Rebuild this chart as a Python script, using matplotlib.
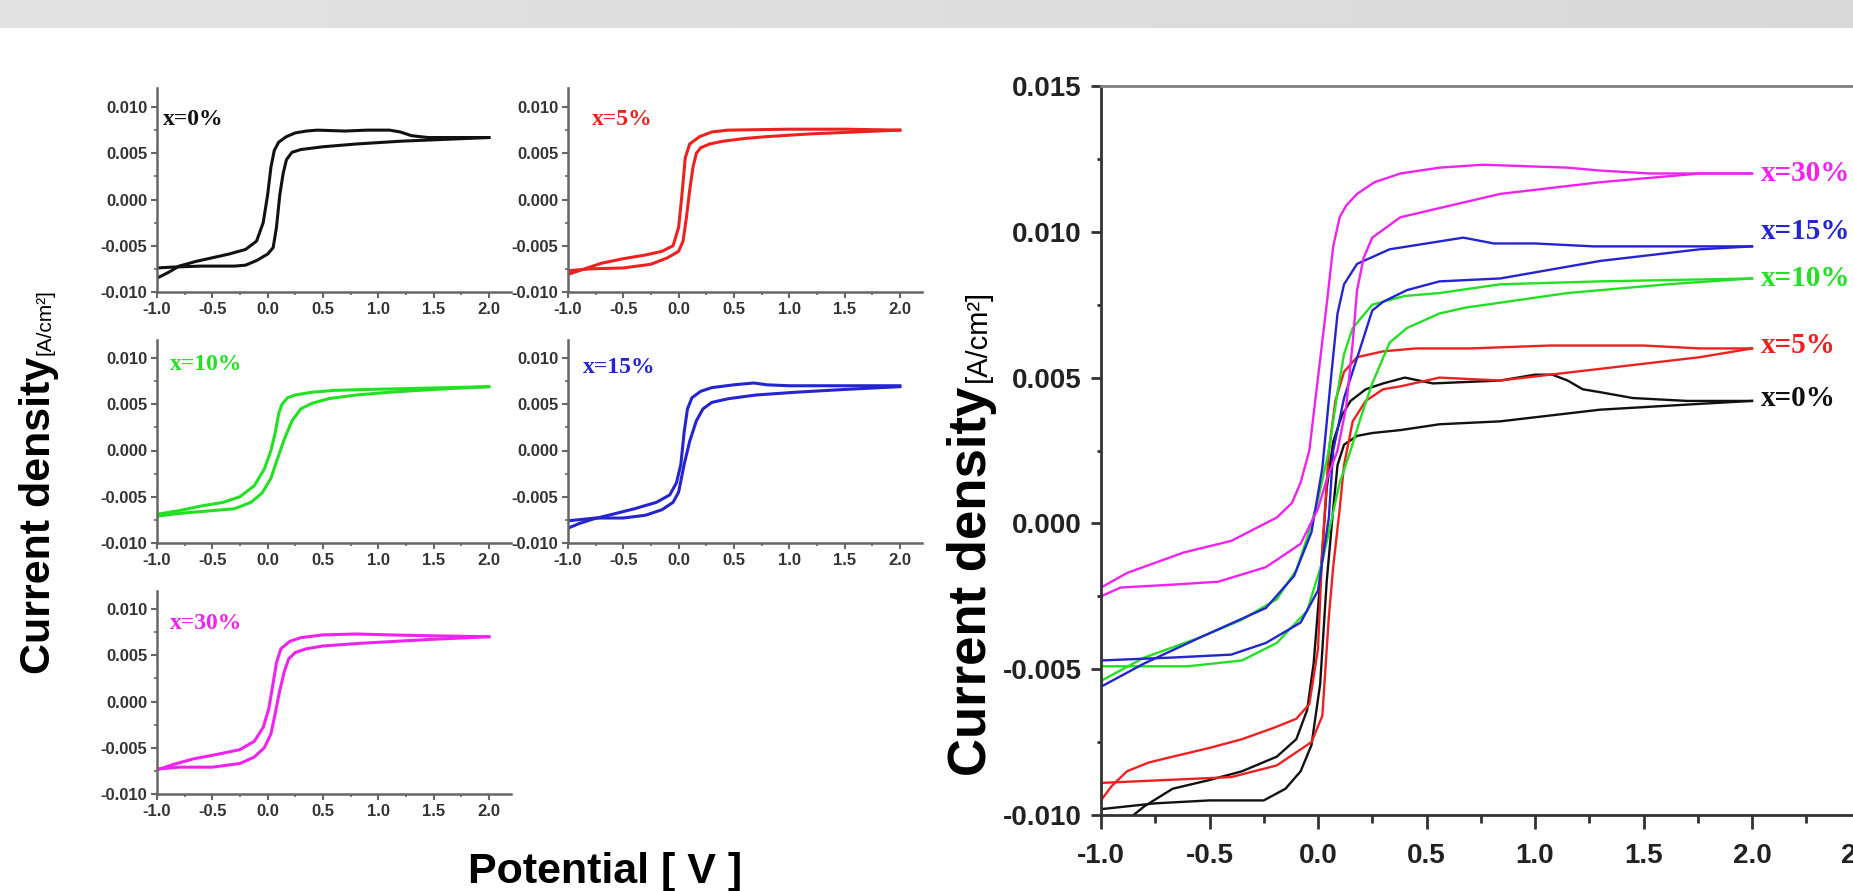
import matplotlib.pyplot as plt
from matplotlib.ticker import MultipleLocator, FormatStrFormatter
import numpy as np

plt.rcParams['font.family'] = ['Liberation Sans', 'DejaVu Sans']
plt.rcParams['font.weight'] = 'bold'

W, H = 1853, 891

labels = ["x=0%", "x=5%", "x=10%", "x=15%", "x=30%"]
colors = ["#111111", "#ee2020", "#22e022", "#2424d0", "#f022f0"]

# small panels: (potential V, current density A/cm2), two branches per loop
s0_up = [(-1.0, -0.0085), (-0.9, -0.0079), (-0.8, -0.0072), (-0.65, -0.0067), (-0.5, -0.0063),
         (-0.35, -0.0059), (-0.2, -0.0054), (-0.1, -0.0045), (-0.04, -0.0025), (0.0, 0.0005),
         (0.03, 0.0035), (0.06, 0.0053), (0.1, 0.0062), (0.17, 0.0068), (0.25, 0.0072),
         (0.35, 0.0074), (0.45, 0.0075), (0.7, 0.0074), (0.9, 0.0075), (1.1, 0.0075),
         (1.2, 0.0073), (1.3, 0.0069), (1.45, 0.0067), (1.7, 0.0067), (2.0, 0.0067)]
s0_dn = [(2.0, 0.0067), (1.6, 0.0065), (1.2, 0.0063), (0.8, 0.0060), (0.5, 0.0057),
         (0.3, 0.0054), (0.22, 0.0051), (0.17, 0.0043), (0.14, 0.0028), (0.11, 0.0005),
         (0.08, -0.0030), (0.05, -0.0052), (0.0, -0.0059), (-0.1, -0.0066), (-0.2, -0.0071),
         (-0.3, -0.0072), (-0.6, -0.0072), (-0.85, -0.0073), (-1.0, -0.0074)]

s5_up = [(-1.0, -0.0081), (-0.85, -0.0075), (-0.7, -0.0069), (-0.5, -0.0064), (-0.3, -0.0060),
         (-0.15, -0.0056), (-0.05, -0.0050), (0.0, -0.0030), (0.03, 0.0005), (0.06, 0.0045),
         (0.1, 0.0060), (0.19, 0.0068), (0.3, 0.0073), (0.45, 0.0075), (1.0, 0.0076),
         (1.5, 0.0076), (2.0, 0.0075)]
s5_dn = [(2.0, 0.0075), (1.6, 0.0073), (1.2, 0.0071), (0.8, 0.0068), (0.6, 0.0066),
         (0.4, 0.0063), (0.28, 0.0060), (0.2, 0.0056), (0.16, 0.0050), (0.13, 0.0035),
         (0.1, 0.0010), (0.07, -0.0020), (0.04, -0.0045), (0.0, -0.0056), (-0.1, -0.0063),
         (-0.25, -0.0070), (-0.5, -0.0074), (-0.8, -0.0075), (-1.0, -0.0077)]

s10_up = [(-1.0, -0.0069), (-0.8, -0.0065), (-0.6, -0.0060), (-0.4, -0.0056), (-0.25, -0.0050),
          (-0.12, -0.0038), (-0.03, -0.0020), (0.03, 0.0000), (0.07, 0.0020), (0.1, 0.0040),
          (0.13, 0.0050), (0.18, 0.0057), (0.25, 0.0060), (0.4, 0.0063), (0.6, 0.0065),
          (0.9, 0.0066), (1.3, 0.0067), (2.0, 0.0069)]
s10_dn = [(2.0, 0.0069), (1.5, 0.0066), (1.1, 0.0063), (0.8, 0.0060), (0.55, 0.0056),
          (0.4, 0.0051), (0.3, 0.0045), (0.22, 0.0032), (0.15, 0.0012), (0.08, -0.0012),
          (0.03, -0.0030), (-0.05, -0.0046), (-0.15, -0.0056), (-0.3, -0.0063), (-0.5, -0.0065),
          (-0.8, -0.0068), (-1.0, -0.0071)]

s15_up = [(-1.0, -0.0084), (-0.9, -0.0079), (-0.77, -0.0074), (-0.6, -0.0069), (-0.4, -0.0063),
          (-0.2, -0.0056), (-0.08, -0.0048), (-0.02, -0.0035), (0.02, -0.0015), (0.05, 0.0020),
          (0.08, 0.0045), (0.12, 0.0057), (0.2, 0.0064), (0.3, 0.0068), (0.5, 0.0071),
          (0.68, 0.0073), (0.8, 0.0071), (1.0, 0.0070), (1.5, 0.0070), (2.0, 0.0070)]
s15_dn = [(2.0, 0.0069), (1.5, 0.0066), (1.06, 0.0063), (0.7, 0.0060), (0.45, 0.0056),
          (0.3, 0.0052), (0.22, 0.0045), (0.16, 0.0032), (0.1, 0.0010), (0.05, -0.0015),
          (0.0, -0.0045), (-0.05, -0.0056), (-0.15, -0.0064), (-0.3, -0.0070), (-0.5, -0.0073),
          (-0.75, -0.0073), (-1.0, -0.0076)]

s30_up = [(-1.0, -0.0074), (-0.85, -0.0068), (-0.67, -0.0062), (-0.45, -0.0057), (-0.25, -0.0052),
          (-0.12, -0.0043), (-0.04, -0.0028), (0.01, -0.0008), (0.05, 0.0020), (0.08, 0.0042),
          (0.12, 0.0057), (0.2, 0.0065), (0.3, 0.0069), (0.5, 0.0072), (0.8, 0.0073),
          (1.1, 0.0072), (1.5, 0.0071), (2.0, 0.0070)]
s30_dn = [(2.0, 0.0070), (1.45, 0.0067), (0.85, 0.0063), (0.5, 0.0060), (0.35, 0.0057),
          (0.25, 0.0053), (0.19, 0.0046), (0.15, 0.0032), (0.11, 0.0012), (0.07, -0.0012),
          (0.03, -0.0035), (-0.03, -0.0050), (-0.12, -0.0060), (-0.25, -0.0067), (-0.5, -0.0071),
          (-0.8, -0.0071), (-1.0, -0.0073)]

# big panel
b0_up = [(-1.0, -0.0108), (-0.9, -0.0103), (-0.8, -0.0097), (-0.67, -0.0091), (-0.5, -0.0088),
         (-0.35, -0.0085), (-0.19, -0.0080), (-0.1, -0.0074), (-0.05, -0.0064), (-0.02, -0.0048),
         (0.01, -0.0020), (0.04, 0.0012), (0.07, 0.0028), (0.11, 0.0037), (0.15, 0.0042),
         (0.22, 0.0046), (0.3, 0.0048), (0.4, 0.0050), (0.53, 0.0048), (0.84, 0.0049),
         (1.0, 0.0051), (1.08, 0.0051), (1.15, 0.0049), (1.22, 0.0046), (1.3, 0.0045),
         (1.45, 0.0043), (1.7, 0.0042), (2.0, 0.0042)]
b0_dn = [(2.0, 0.0042), (1.76, 0.0041), (1.3, 0.0039), (0.84, 0.0035), (0.56, 0.0034),
         (0.38, 0.0032), (0.25, 0.0031), (0.18, 0.0030), (0.12, 0.0027), (0.09, 0.0020),
         (0.07, 0.0005), (0.04, -0.0020), (0.01, -0.0055), (-0.03, -0.0076), (-0.08, -0.0085),
         (-0.15, -0.0091), (-0.25, -0.0095), (-0.5, -0.0095), (-0.75, -0.0096), (-1.0, -0.0098)]

b5_up = [(-1.0, -0.0095), (-0.95, -0.0090), (-0.88, -0.0085), (-0.78, -0.0082), (-0.67, -0.0080),
         (-0.5, -0.0077), (-0.35, -0.0074), (-0.2, -0.0070), (-0.1, -0.0067), (-0.04, -0.0062),
         (0.0, -0.0043), (0.02, -0.0009), (0.05, 0.0025), (0.08, 0.0042), (0.12, 0.0052),
         (0.18, 0.0057), (0.3, 0.0059), (0.45, 0.0060), (0.7, 0.0060), (1.07, 0.0061),
         (1.5, 0.0061), (1.76, 0.0060), (2.0, 0.0060)]
b5_dn = [(2.0, 0.0060), (1.76, 0.0057), (1.3, 0.0053), (0.84, 0.0049), (0.56, 0.0050),
         (0.38, 0.0047), (0.3, 0.0046), (0.22, 0.0042), (0.16, 0.0035), (0.12, 0.0020),
         (0.1, 0.0005), (0.07, -0.0015), (0.05, -0.0032), (0.02, -0.0066), (-0.03, -0.0075),
         (-0.19, -0.0083), (-0.4, -0.0087), (-0.7, -0.0088), (-1.0, -0.0089)]

b10_up = [(-1.0, -0.0054), (-0.9, -0.0050), (-0.8, -0.0046), (-0.54, -0.0039), (-0.35, -0.0033),
          (-0.19, -0.0026), (-0.1, -0.0016), (-0.05, -0.0005), (0.0, 0.0008), (0.05, 0.0025),
          (0.09, 0.0045), (0.12, 0.0058), (0.16, 0.0067), (0.25, 0.0075), (0.4, 0.0078),
          (0.56, 0.0079), (0.84, 0.0082), (1.3, 0.0083), (2.0, 0.0084)]
b10_dn = [(2.0, 0.0084), (1.61, 0.0082), (1.15, 0.0079), (0.68, 0.0074), (0.56, 0.0072),
          (0.41, 0.0067), (0.33, 0.0062), (0.25, 0.0048), (0.2, 0.0037), (0.15, 0.0025),
          (0.1, 0.0014), (0.05, -0.0003), (0.02, -0.0013), (-0.05, -0.0030), (-0.19, -0.0041),
          (-0.35, -0.0047), (-0.6, -0.0049), (-1.0, -0.0049)]

b15_up = [(-1.0, -0.0056), (-0.8, -0.0048), (-0.54, -0.0039), (-0.24, -0.0029), (-0.11, -0.0018),
          (-0.03, -0.0003), (0.02, 0.0019), (0.06, 0.0050), (0.09, 0.0072), (0.12, 0.0082),
          (0.18, 0.0089), (0.33, 0.0094), (0.5, 0.0096), (0.67, 0.0098), (0.81, 0.0096),
          (1.0, 0.0096), (1.27, 0.0095), (2.0, 0.0095)]
b15_dn = [(2.0, 0.0095), (1.76, 0.0094), (1.3, 0.0090), (0.84, 0.0084), (0.56, 0.0083),
          (0.41, 0.0080), (0.3, 0.0076), (0.25, 0.0073), (0.19, 0.0059), (0.12, 0.0043),
          (0.07, 0.0025), (0.05, 0.0002), (0.0, -0.0023), (-0.08, -0.0034), (-0.24, -0.0041),
          (-0.4, -0.0045), (-0.67, -0.0046), (-1.0, -0.0047)]

b30_up = [(-1.0, -0.0022), (-0.88, -0.0017), (-0.62, -0.0010), (-0.4, -0.0006), (-0.19, 0.0002),
          (-0.12, 0.0007), (-0.08, 0.0014), (-0.04, 0.0025), (0.0, 0.0050), (0.04, 0.0075),
          (0.07, 0.0095), (0.1, 0.0105), (0.13, 0.0109), (0.18, 0.0113), (0.26, 0.0117),
          (0.38, 0.0120), (0.56, 0.0122), (0.76, 0.0123), (1.15, 0.0122), (1.3, 0.0121),
          (1.53, 0.0120), (2.0, 0.0120)]
b30_dn = [(2.0, 0.0120), (1.76, 0.0120), (1.3, 0.0117), (0.84, 0.0113), (0.38, 0.0105),
          (0.25, 0.0098), (0.21, 0.0091), (0.18, 0.0080), (0.16, 0.0062), (0.13, 0.0040),
          (0.09, 0.0025), (0.04, 0.0015), (0.0, 0.0005), (-0.08, -0.0007), (-0.24, -0.0015),
          (-0.46, -0.0020), (-0.67, -0.0021), (-0.91, -0.0022), (-1.0, -0.0025)]

label_y = [0.0043, 0.0061, 0.0084, 0.0100, 0.0120]

small = [(s0_up, s0_dn), (s5_up, s5_dn), (s10_up, s10_dn), (s15_up, s15_dn), (s30_up, s30_dn)]
big = [(b0_up, b0_dn), (b5_up, b5_dn), (b10_up, b10_dn), (b15_up, b15_dn), (b30_up, b30_dn)]


def box(l, t, w, h):
    # pixel box measured from the top-left corner
    return [l / W, 1 - (t + h) / H, w / W, h / H]


fig = plt.figure(figsize=(W / 100, H / 100), dpi=100)

# grey strip along the top
ax_bg = fig.add_axes(box(0, 0, W, 28))
ax_bg.imshow(np.linspace(0.885, 0.85, 256)[None, :], cmap='gray', vmin=0, vmax=1, aspect='auto')
ax_bg.axis('off')

# small panels
spots = [(157, 292), (568, 292), (157, 543), (568, 543), (157, 794)]
lab_off = [(6, 31), (24, 31), (13, 25), (15, 28), (13, 33)]
sw, sh = 354, 203.5
for i, (up, dn) in enumerate(small):
    left, bot = spots[i]
    ax = fig.add_axes(box(left, bot - sh, sw, sh))
    for br in (up, dn):
        v, j = zip(*br)
        ax.plot(v, j, color=colors[i], lw=2.2)
    ax.set_xlim(-1, 2.2)
    ax.set_ylim(-0.010, 0.012)
    ax.spines['top'].set_visible(False)
    ax.spines['right'].set_visible(False)
    for s in ('left', 'bottom'):
        ax.spines[s].set_color('#666666')
        ax.spines[s].set_linewidth(1.8)
    ax.xaxis.set_minor_locator(MultipleLocator(0.25))
    ax.yaxis.set_major_locator(MultipleLocator(0.005))
    ax.yaxis.set_minor_locator(MultipleLocator(0.0025))
    ax.set_xticks([-1, -0.5, 0, 0.5, 1, 1.5, 2])
    ax.xaxis.set_major_formatter(FormatStrFormatter('%.1f'))
    ax.yaxis.set_major_formatter(FormatStrFormatter('%.3f'))
    ax.tick_params(which='major', direction='out', length=4, width=1.5, color='#666666',
                   labelsize=12, labelcolor='#333333', pad=3)
    ax.tick_params(which='minor', direction='out', length=2.5, width=1.2, color='#666666')
    ax.set_facecolor('none')
    ax.text(lab_off[i][0] / sw, 1 - lab_off[i][1] / sh, labels[i], transform=ax.transAxes,
            ha='left', va='center', color=colors[i], fontsize=17,
            family=['Liberation Serif', 'DejaVu Serif'], weight='bold')

fig.text(50 / W, 1 - 357 / H, "Current density", rotation=90, rotation_mode='anchor',
         ha='right', va='baseline', fontsize=31, weight='bold')
fig.text(50 / W, 1 - 355 / H, "[A/cm²]", rotation=90, rotation_mode='anchor',
         ha='left', va='baseline', fontsize=15, weight='normal')
fig.text(468 / W, 1 - 883 / H, "Potential [ V ]", ha='left', va='baseline',
         fontsize=31, weight='bold')

# big panel
axb = fig.add_axes(box(1101, 86, 759.5, 729))
for i, (up, dn) in enumerate(big):
    for br in (up, dn):
        v, j = zip(*br)
        axb.plot(v, j, color=colors[i], lw=1.7)
    axb.text(2.04, label_y[i], labels[i], color=colors[i], ha='left', va='center',
             fontsize=21, family=['Liberation Serif', 'DejaVu Serif'], weight='bold')
axb.set_xlim(-1, 2.5)
axb.set_ylim(-0.010, 0.015)
for s in axb.spines.values():
    s.set_color('#333333')
    s.set_linewidth(2)
axb.spines['top'].set_color('#808080')
axb.xaxis.set_major_locator(MultipleLocator(0.5))
axb.xaxis.set_minor_locator(MultipleLocator(0.25))
axb.yaxis.set_major_locator(MultipleLocator(0.005))
axb.yaxis.set_minor_locator(MultipleLocator(0.0025))
axb.xaxis.set_major_formatter(FormatStrFormatter('%.1f'))
axb.yaxis.set_major_formatter(FormatStrFormatter('%.3f'))
axb.tick_params(axis='x', which='major', direction='out', length=10, width=2, pad=10)
axb.tick_params(axis='x', which='minor', direction='out', length=6, width=2)
axb.tick_params(axis='y', which='major', direction='out', length=7, width=2, pad=7)
axb.tick_params(axis='y', which='minor', direction='out', length=3, width=2)
axb.tick_params(which='both', color='#333333', labelsize=20, labelcolor='#222222')

fig.text(986 / W, 1 - 387 / H, "Current density", rotation=90, rotation_mode='anchor',
         ha='right', va='baseline', fontsize=38, weight='bold')
fig.text(986 / W, 1 - 382 / H, "[A/cm²]", rotation=90, rotation_mode='anchor',
         ha='left', va='baseline', fontsize=21, weight='normal')

fig.savefig('out.png', dpi=100)
